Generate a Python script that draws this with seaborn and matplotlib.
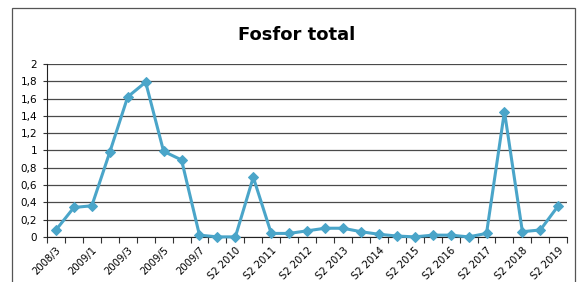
import pandas as pd
import matplotlib.pyplot as plt
import matplotlib.ticker as mticker
import seaborn as sns

# sampling periods (only every other one gets a label on the chart)
periods = ['2008/3', '2008/4', '2009/1', '2009/2', '2009/3', '2009/4',
           '2009/5', '2009/6', '2009/7', 'S1 2010', 'S2 2010', 'S1 2011',
           'S2 2011', 'S1 2012', 'S2 2012', 'S1 2013', 'S2 2013', 'S1 2014',
           'S2 2014', 'S1 2015', 'S2 2015', 'S1 2016', 'S2 2016', 'S1 2017',
           'S2 2017', 'S1 2018', 'S2 2018', 'S1 2019', 'S2 2019']
fosfor = [0.08, 0.34, 0.36, 0.98, 1.62, 1.79, 0.99, 0.89, 0.02, 0.0,
          0.0, 0.69, 0.04, 0.04, 0.07, 0.10, 0.10, 0.06, 0.03, 0.01,
          0.0, 0.02, 0.02, 0.0, 0.04, 1.45, 0.06, 0.08, 0.36]
y_ticks = [0, 0.2, 0.4, 0.6, 0.8, 1, 1.2, 1.4, 1.6, 1.8, 2]

df = pd.DataFrame({'pos': range(len(periods)), 'Perioada': periods,
                   'Fosfor': fosfor})

sns.set_style('white')
plt.rcParams['text.color'] = 'black'
plt.rcParams['xtick.color'] = 'black'
plt.rcParams['ytick.color'] = 'black'
fig = plt.figure(figsize=(5.8, 2.82), dpi=100)
ax = fig.add_axes([0.081, 0.160, 0.897, 0.613])

sns.lineplot(data=df, x='pos', y='Fosfor', ax=ax, color='#4aa5c9',
             linewidth=2.2, marker='D', markersize=5.5,
             markeredgecolor='#4aa5c9', clip_on=False, zorder=3)

ax.set_xlim(-0.5, len(periods) - 0.5)
ax.set_ylim(0, 2)
ax.set_yticks(y_ticks)
ax.yaxis.set_major_formatter(
    mticker.FuncFormatter(lambda v, p: ('%g' % round(v, 1)).replace('.', ',')))
ax.grid(axis='y', color='#4a4a4a', linewidth=0.9)
ax.tick_params(axis='y', length=3, width=0.8, labelsize=7.5, pad=4,
               left=True, color='#333333', labelcolor='black')

# tick marks between categories, labels on every second category
ax.set_xticks([i - 0.5 for i in range(len(periods) + 1)], minor=False)
ax.set_xticklabels([])
ax.set_xticks(list(range(0, len(periods), 2)), minor=True)
ax.set_xticklabels(periods[::2], minor=True, rotation=45, ha='right',
                   rotation_mode='anchor', fontsize=7.2, color='black')
ax.tick_params(axis='x', which='major', length=4, width=0.8,
               bottom=True, color='#333333')
ax.tick_params(axis='x', which='minor', length=0, pad=6)

for s in ['top', 'right']:
    ax.spines[s].set_visible(False)
ax.spines['left'].set_color('#222222')
ax.spines['bottom'].set_color('#222222')
ax.set_xlabel('')
ax.set_ylabel('')

fig.text(0.512, 0.876, 'Fosfor total', ha='center', va='center',
         fontsize=13, fontweight='bold', color='black')

# chart frame
fig.patches.append(plt.Rectangle((12 / 580, -0.1), 563 / 580, 1.1 - 8 / 282,
                                 transform=fig.transFigure, fill=False,
                                 edgecolor='#555555', linewidth=0.9))

fig.savefig('out.png', dpi=100)
